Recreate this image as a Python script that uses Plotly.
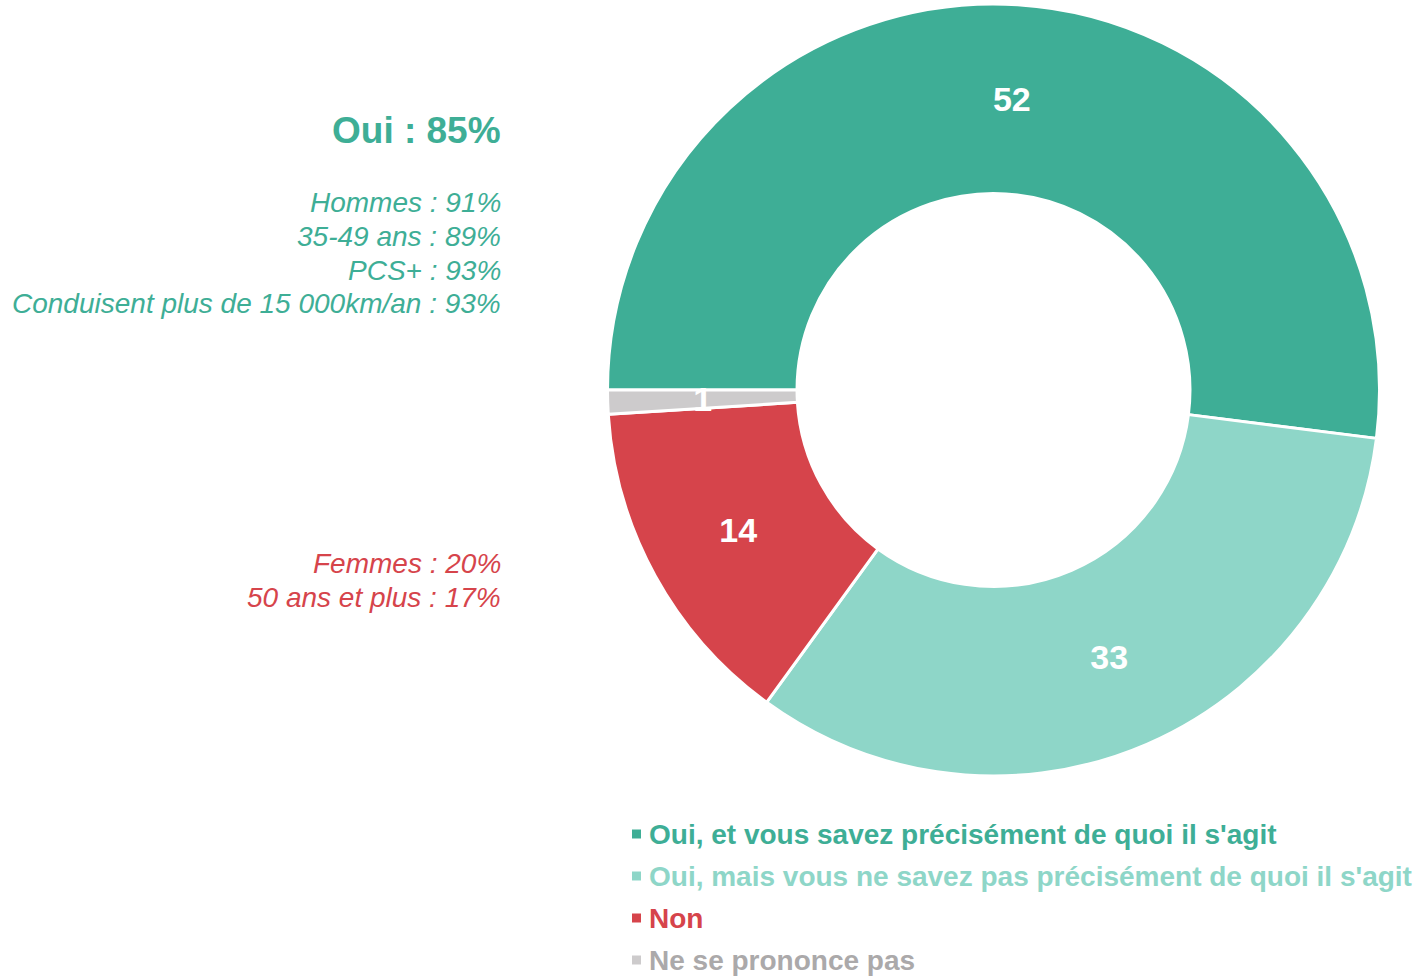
import plotly.graph_objects as go

W, H = 1419, 976

labels = [
    "Oui, et vous savez précisément de quoi il s'agit",
    "Oui, mais vous ne savez pas précisément de quoi il s'agit",
    "Non",
    "Ne se prononce pas",
]
values = [52, 33, 14, 1]
colors = ["#3EAE96", "#8ED6C8", "#D6444B", "#CDCBCC"]
legend_text_colors = ["#3EAE96", "#8ED6C8", "#D6444B", "#ABA9AA"]

oui_title = "Oui : 85%"
oui_details = ["Hommes : 91%", "35-49 ans : 89%", "PCS+ : 93%", "Conduisent plus de 15 000km/an : 93%"]
non_details = ["Femmes : 20%", "50 ans et plus : 17%"]

FONT = "Arial, 'Liberation Sans', sans-serif"

def px_x(x):
    return x / W

def px_y(y):
    return 1 - y / H

CX, CY, R = 993.5, 390, 386
R_SMALL = 300

# big slices labelled by the main donut; the thin slice labelled by an overlay pie
main_text = ["%{value}" if v >= 5 else "" for v in values]
small_text = ["" if v >= 5 else "%{value}" for v in values]

fig = go.Figure()
fig.add_trace(go.Pie(
    labels=labels,
    values=values,
    hole=0.509,
    sort=False,
    direction="clockwise",
    rotation=270,
    marker=dict(colors=colors, line=dict(color="white", width=3)),
    texttemplate=main_text,
    textposition="inside",
    insidetextorientation="horizontal",
    textfont=dict(family=FONT, size=34, color="white", weight="bold"),
    domain=dict(x=[px_x(CX - R), px_x(CX + R)], y=[px_y(CY + R), px_y(CY - R)]),
    showlegend=False,
    hoverinfo="label+value",
))
fig.add_trace(go.Pie(
    labels=labels,
    values=values,
    hole=0,
    sort=False,
    direction="clockwise",
    rotation=270,
    marker=dict(colors=["rgba(0,0,0,0)"] * len(values), line=dict(width=0)),
    texttemplate=small_text,
    textposition="inside",
    insidetextorientation="horizontal",
    textfont=dict(family=FONT, size=34, color="white", weight="bold"),
    domain=dict(x=[px_x(CX - R_SMALL), px_x(CX + R_SMALL)],
                y=[px_y(CY + R_SMALL), px_y(CY - R_SMALL)]),
    showlegend=False,
    hoverinfo="skip",
))

annotations = []
shapes = []

TX = 503
annotations.append(dict(
    x=px_x(TX), y=px_y(130), xref="paper", yref="paper",
    xanchor="right", yanchor="middle", showarrow=False,
    text="<b>" + oui_title + "</b>",
    font=dict(family=FONT, size=37, color=colors[0]),
))
oui_y = [203, 237, 270, 303]
for t, yy in zip(oui_details, oui_y):
    annotations.append(dict(
        x=px_x(TX), y=px_y(yy), xref="paper", yref="paper",
        xanchor="right", yanchor="middle", showarrow=False,
        text="<i>" + t + "</i>",
        font=dict(family=FONT, size=28, color=colors[0]),
    ))
non_y = [563, 597]
for t, yy in zip(non_details, non_y):
    annotations.append(dict(
        x=px_x(TX), y=px_y(yy), xref="paper", yref="paper",
        xanchor="right", yanchor="middle", showarrow=False,
        text="<i>" + t + "</i>",
        font=dict(family=FONT, size=28, color=colors[2]),
    ))

# custom legend
leg_y = [834, 876, 918, 960]
for lab, c, tc, yy in zip(labels, colors, legend_text_colors, leg_y):
    shapes.append(dict(
        type="rect", xref="paper", yref="paper",
        x0=px_x(632), x1=px_x(641), y0=px_y(yy + 4.5), y1=px_y(yy - 4.5),
        fillcolor=c, line=dict(width=0),
    ))
    annotations.append(dict(
        x=px_x(647), y=px_y(yy), xref="paper", yref="paper",
        xanchor="left", yanchor="middle", showarrow=False,
        text="<b>" + lab + "</b>",
        font=dict(family=FONT, size=28, color=tc),
    ))

fig.update_layout(
    width=W, height=H,
    margin=dict(l=0, r=0, t=0, b=0),
    paper_bgcolor="white",
    plot_bgcolor="white",
    uniformtext=dict(mode="show", minsize=34),
    annotations=annotations,
    shapes=shapes,
)

fig.write_html(
    "out.html",
    config={"displayModeBar": False},
    post_script="document.body.style.margin='0px';document.body.style.overflow='hidden';",
)
